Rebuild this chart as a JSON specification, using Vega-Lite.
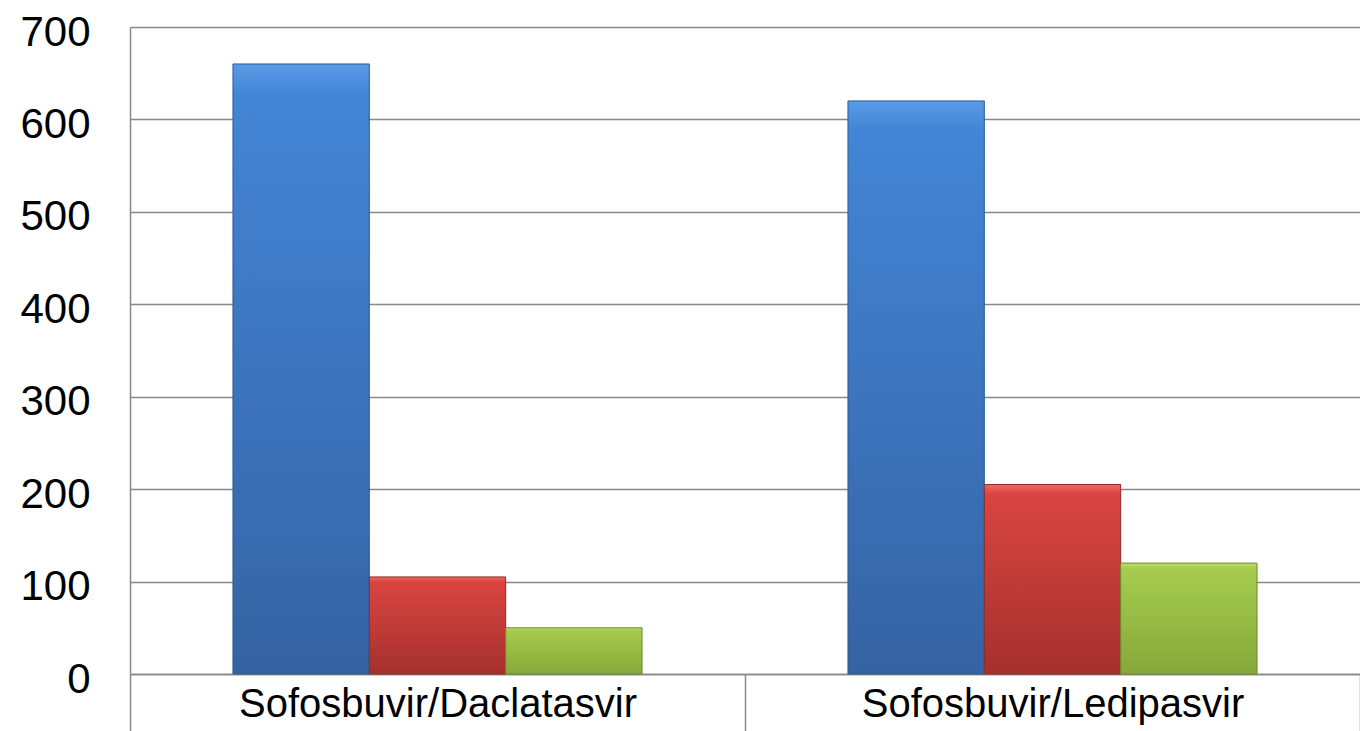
{
  "$schema": "https://vega.github.io/schema/vega-lite/v6.json",
  "autosize": "none",
  "width": 1230,
  "height": 647,
  "padding": {"left": 130, "top": 27, "right": 0, "bottom": 57},
  "background": "white",
  "config": {
    "view": {"stroke": null},
    "font": "Liberation Sans"
  },
  "data": {
    "values": [
      {"regimen": "Sofosbuvir/Daclatasvir", "series": "A", "value": 660},
      {"regimen": "Sofosbuvir/Daclatasvir", "series": "B", "value": 105},
      {"regimen": "Sofosbuvir/Daclatasvir", "series": "C", "value": 50},
      {"regimen": "Sofosbuvir/Ledipasvir", "series": "A", "value": 620},
      {"regimen": "Sofosbuvir/Ledipasvir", "series": "B", "value": 205},
      {"regimen": "Sofosbuvir/Ledipasvir", "series": "C", "value": 120}
    ]
  },
  "encoding": {
    "x": {
      "field": "regimen", "type": "nominal", "title": null,
      "scale": {"paddingInner": 0, "paddingOuter": 0},
      "axis": {
        "labelAngle": 0, "labelFontSize": 40, "labelColor": "#000000",
        "labelFont": "Liberation Sans", "labelLimit": 1000,
        "tickBand": "extent", "tickSize": 57, "tickColor": "#888888", "tickWidth": 1.5,
        "labelPadding": -47, "labelBaseline": "top",
        "domainColor": "#888888", "domainWidth": 1.5
      }
    },
    "xOffset": {
      "field": "series", "type": "nominal",
      "scale": {"paddingInner": 0, "paddingOuter": 0.755}
    },
    "y": {
      "field": "value", "type": "quantitative", "title": null,
      "scale": {"domain": [0, 700], "nice": false},
      "axis": {
        "values": [0, 100, 200, 300, 400, 500, 600, 700],
        "labelFontSize": 42, "labelColor": "#000000", "labelFont": "Liberation Sans",
        "ticks": false, "labelPadding": 40, "labelOffset": 5,
        "grid": true, "gridColor": "#888888", "gridWidth": 1.5,
        "domain": true, "domainColor": "#888888", "domainWidth": 1.5
      }
    }
  },
  "layer": [
    {
      "transform": [{"filter": "datum.series === 'A'"}],
      "mark": {"type": "bar", "stroke": "#2c5a94", "strokeWidth": 1,
        "fill": {"gradient": "linear", "x1": 0, "y1": 0, "x2": 0, "y2": 1,
          "stops": [{"offset": 0, "color": "#5a9ae6"}, {"offset": 0.05, "color": "#4385d6"}, {"offset": 1, "color": "#3563a3"}]}}
    },
    {
      "transform": [{"filter": "datum.series === 'B'"}],
      "mark": {"type": "bar", "stroke": "#8f2926", "strokeWidth": 1,
        "fill": {"gradient": "linear", "x1": 0, "y1": 0, "x2": 0, "y2": 1,
          "stops": [{"offset": 0, "color": "#f06862"}, {"offset": 0.05, "color": "#d94541"}, {"offset": 1, "color": "#a5302d"}]}}
    },
    {
      "transform": [{"filter": "datum.series === 'C'"}],
      "mark": {"type": "bar", "stroke": "#6e8a2e", "strokeWidth": 1,
        "fill": {"gradient": "linear", "x1": 0, "y1": 0, "x2": 0, "y2": 1,
          "stops": [{"offset": 0, "color": "#bce06a"}, {"offset": 0.05, "color": "#a6cc4e"}, {"offset": 1, "color": "#86a83a"}]}}
    }
  ]
}
